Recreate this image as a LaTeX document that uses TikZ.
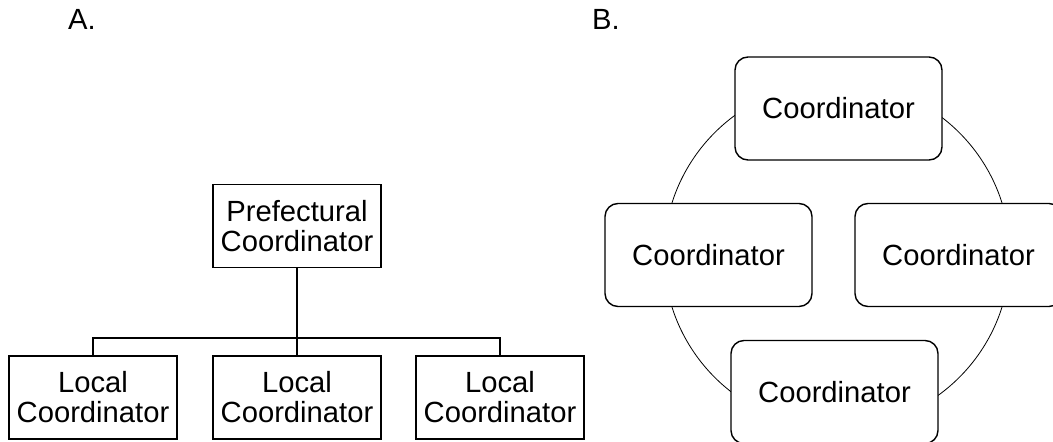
\documentclass[tikz,border=0pt]{standalone}
\usepackage{fontspec}
\setmainfont{Liberation Sans}
\begin{document}
\begin{tikzpicture}
                        [x=1pt,y=-1pt,
                        font=\fontsize{29.2}{30}\selectfont,
                        org/.style={draw,line width=1.4pt,inner sep=0pt,align=center,
                                minimum width=168pt,minimum height=83pt},
                        team/.style={draw,line width=1.4pt,rounded corners=13pt,fill=white,
                                inner sep=0pt,minimum width=207pt,minimum height=103pt},
                        tie/.style={line width=1.4pt}]
                        \clip (0,0) rectangle (1053,442);
                        %Bezeichnungen
                        \node [anchor=base west,inner sep=0pt] (labA) at (68,29) {A.};
                        \node [anchor=base west,inner sep=0pt] (labB) at (592,29) {B.};
                        %Hierarchie
                        \node [org] (pref) at (297,226) {Prefectural\\Coordinator};
                        \node [org] (loc1) at (93,397.5) {Local\\Coordinator};
                        \node [org] (loc2) at (297,397.5) {Local\\Coordinator};
                        \node [org] (loc3) at (500,397.5) {Local\\Coordinator};
                        \coordinate (bus) at (297,338);
                        \draw [tie] (pref) -- (loc2);
                        \draw [tie] (loc1.north) |- (bus) -| (loc3.north);
                        %Kreis
                        \node [draw,circle,line width=0.8pt,minimum size=346pt,inner sep=0pt] (ring) at (837,255) {};
                        \node [team] (top) at (838.5,108.5) {Coordinator};
                        \node [team] (left) at (708.5,255) {Coordinator};
                        \node [team] (right) at (958.5,255) {Coordinator};
                        \node [team] (bot) at (834.5,392) {Coordinator};
                \end{tikzpicture}
\end{document}
